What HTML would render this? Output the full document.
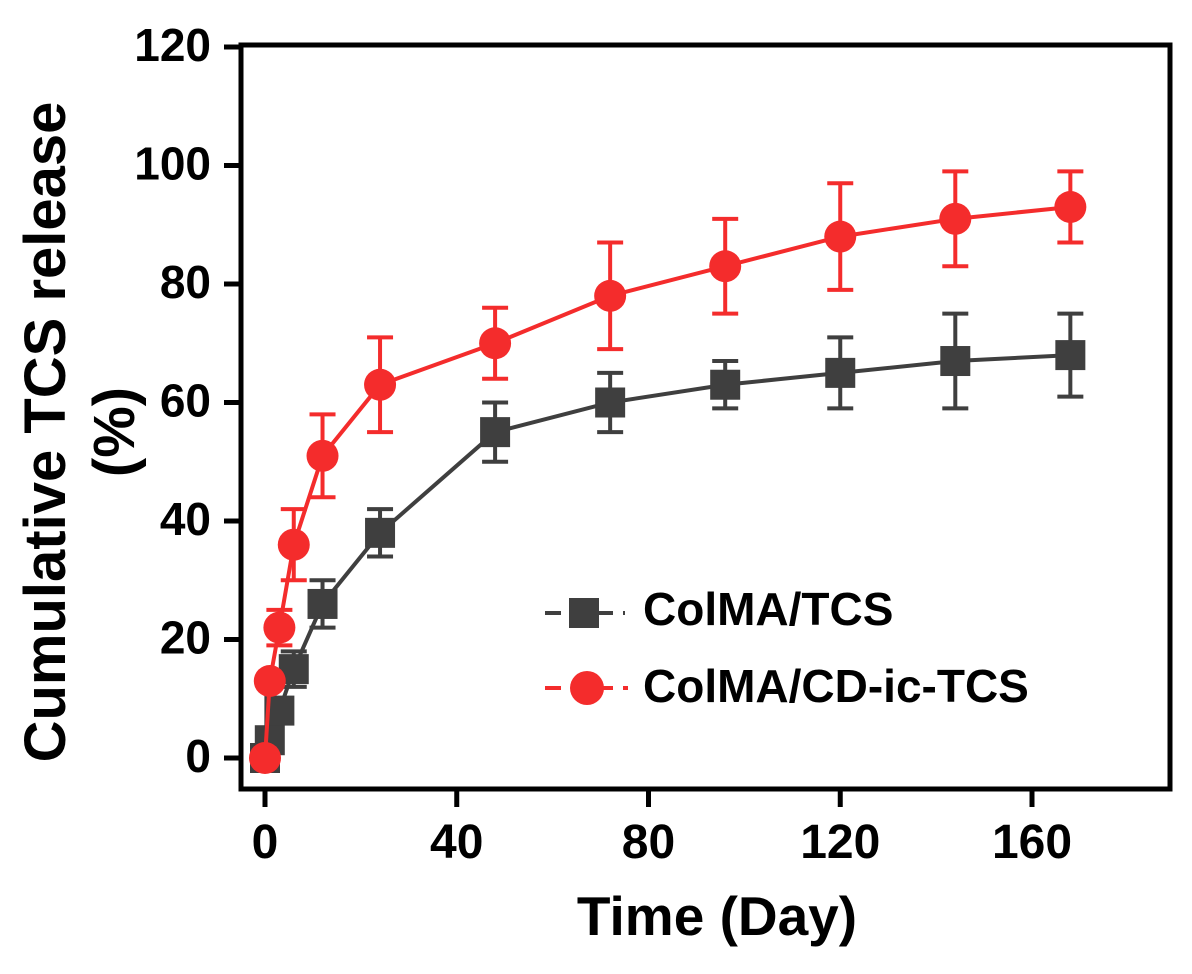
<!DOCTYPE html>
<html><head><meta charset="utf-8"><style>
html,body{margin:0;padding:0;background:#fff}
svg text{font-family:"Liberation Sans",Arial,sans-serif;font-weight:bold}
</style></head><body>
<svg id="chart" width="1192" height="969" xmlns="http://www.w3.org/2000/svg">
<g id="axes"></g><g id="series"></g>
<g>
 <line x1="545" y1="613" x2="625" y2="613" stroke="#3f3f3f" stroke-width="4" stroke-dasharray="16,10"/>
 <rect x="569" y="598" width="30" height="30" fill="#3f3f3f"/>
 <text x="643" y="625" font-size="46" fill="#000">ColMA/TCS</text>
 <line x1="545" y1="688" x2="628" y2="688" stroke="#f42c2c" stroke-width="4" stroke-dasharray="16,10"/>
 <circle cx="587" cy="688" r="17" fill="#f42c2c"/>
 <text x="643" y="702" font-size="46" fill="#000">ColMA/CD-ic-TCS</text>
</g>
<text x="717" y="935" font-size="55" text-anchor="middle">Time (Day)</text>
<text transform="translate(65,432) rotate(-90)" font-size="58" text-anchor="middle">Cumulative TCS release</text>
<text transform="translate(134,432) rotate(-90)" font-size="58" text-anchor="middle">(%)</text>
</svg>
<script>
const xTicks=[0,40,80,120,160];
const yTicks=[0,20,40,60,80,100,120];
const timeA=[0,1,3,6,12,24,48,72,96,120,144,168];
const valA=[0,3,8,15,26,38,55,60,63,65,67,68];
const errA=[0,0,0,3,4,4,5,5,4,6,8,7];
const timeB=[0,1,3,6,12,24,48,72,96,120,144,168];
const valB=[0,13,22,36,51,63,70,78,83,88,91,93];
const errB=[0,0,3,6,7,8,6,9,8,9,8,6];
const X=v=>265+v*(1032-265)/160;
const Y=v=>758-v*(758-47)/120;
const NS="http://www.w3.org/2000/svg";
function mk(p,tag,at){const e=document.createElementNS(NS,tag);for(const k in at)e.setAttribute(k,at[k]);p.appendChild(e);return e;}
const ax=document.getElementById('axes');
let fr=mk(ax,'rect',{x:241,y:45,width:929,height:744,fill:'none',stroke:'#000','stroke-width':5});


yTicks.forEach(t=>{
 const l=mk(ax,'line',{x1:224,x2:241,y1:Y(t),y2:Y(t),stroke:'#000','stroke-width':5});
 
 
 const tx=mk(ax,'text',{x:211,y:Y(t)+14,'font-size':46,'text-anchor':'end'});tx.textContent=t;
 
 
});
xTicks.forEach(t=>{
 const l=mk(ax,'line',{x1:X(t),x2:X(t),y1:789,y2:807,stroke:'#000','stroke-width':5});
 
 
 const tx=mk(ax,'text',{x:X(t),y:858,'font-size':48,'text-anchor':'middle'});tx.textContent=t;
 
 
});
const sr=document.getElementById('series');
function draw(ts,vs,es,col,shape,name){
 const g=mk(sr,'g',{});
 
 
 mk(g,'polyline',{points:ts.map((t,i)=>X(t)+','+Y(vs[i])).join(' '),fill:'none',stroke:col,'stroke-width':4});
 ts.forEach((t,i)=>{
  const x=X(t);
  if(es[i]>0){
   const a=Y(vs[i]+es[i]),b=Y(vs[i]-es[i]);
   const e=mk(g,'path',{d:`M${x},${a}V${b}M${x-13},${a}H${x+13}M${x-13},${b}H${x+13}`,stroke:col,'stroke-width':4,fill:'none'});
   
   
  }
  let m;
  if(shape==='sq')m=mk(g,'rect',{x:x-15,y:Y(vs[i])-15,width:30,height:30,fill:col});
  else m=mk(g,'circle',{cx:x,cy:Y(vs[i]),r:16,fill:col});
  
  
 });
}
draw(timeA,valA,errA,'#3f3f3f','sq','series-colma-tcs');
draw(timeB,valB,errB,'#f42c2c','ci','series-colma-cd-ic-tcs');
</script>
</body></html>
